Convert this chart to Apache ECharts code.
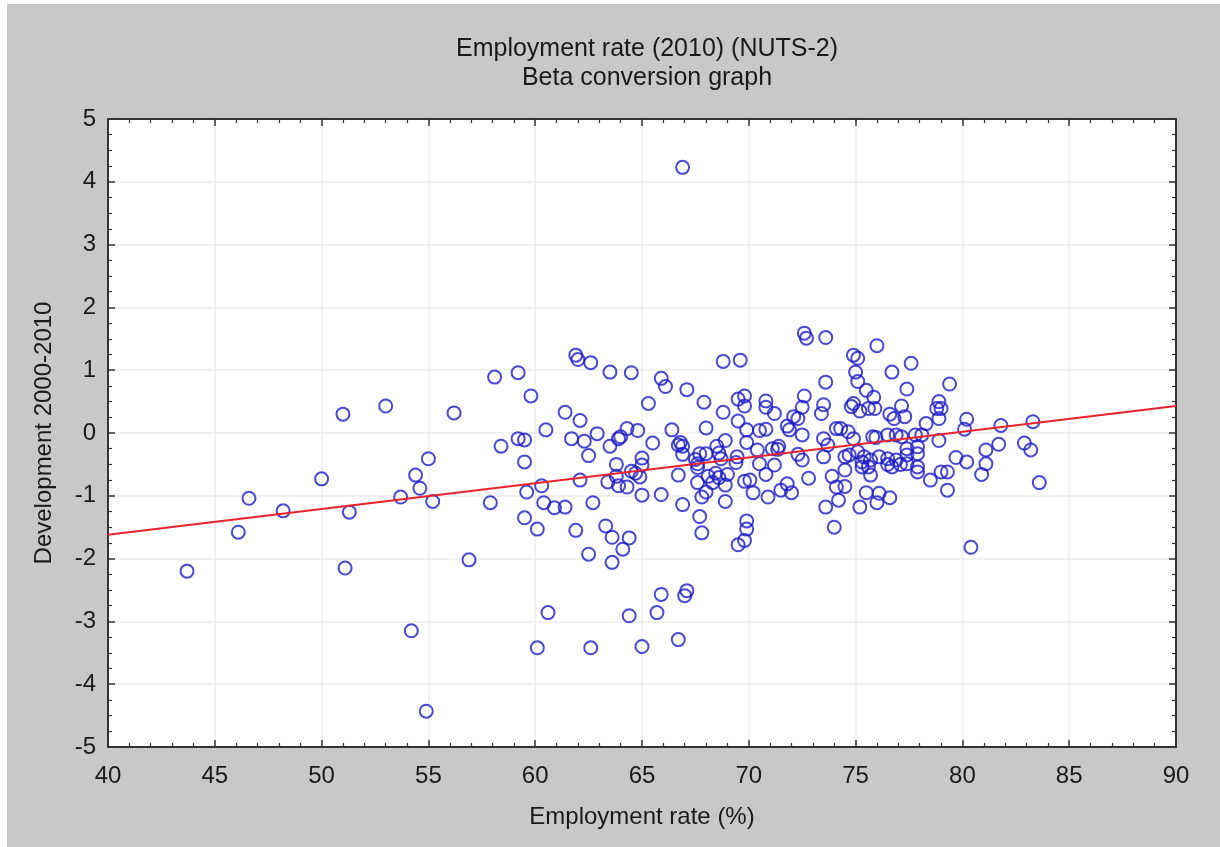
<!DOCTYPE html>
<html>
<head>
<meta charset="utf-8">
<script src="https://cdn.jsdelivr.net/npm/echarts@6/dist/echarts.min.js"></script>
<style>
  html, body { margin: 0; padding: 0; background: #fff; }
  #chart { width: 1220px; height: 847px; }
</style>
</head>
<body>
<div id="chart"></div>
<script>
// Employment rate 2010 (%) of each NUTS-2 region
const employmentRate = [
  43.7, 46.1, 46.6, 48.2, 50.0, 51.0, 51.1, 51.3, 53.0, 53.7,
  54.4, 55.0, 54.6, 55.2, 56.2, 56.9, 57.9, 58.1, 59.2, 58.4,
  59.2, 59.5, 59.8, 59.5, 59.6, 59.5,
  54.2, 54.9, 60.6, 60.1, 62.6, 64.4, 65.0, 65.7, 66.7,
  61.9, 62.0, 62.6, 63.5, 64.5, 65.9, 66.1, 61.4, 62.1, 65.3,
  60.5, 61.7, 62.3, 62.9, 63.5, 63.9, 64.0, 64.3, 64.8, 65.5,
  62.5, 63.8, 65.0, 65.0, 64.5, 64.7, 64.9, 63.8, 63.4, 63.9,
  64.3, 62.1, 60.3, 65.0, 65.9, 60.4, 60.9, 61.4, 62.7, 60.1,
  61.9, 63.3, 63.6, 64.4, 64.1, 62.5, 63.6, 65.9,
  72.6, 72.7, 68.8, 69.6, 67.1, 67.9, 68.8, 69.5, 69.8, 69.8,
  69.5, 69.9, 70.8, 70.8, 71.2, 70.5, 70.8, 66.4, 68.0, 72.6,
  72.5, 72.1, 72.3, 71.8, 71.9, 72.5, 68.9, 68.5, 66.8, 66.9,
  66.7, 66.9, 69.9, 71.1, 71.4, 71.35, 70.4, 69.45, 68.6, 67.7,
  68.0, 67.5, 67.6, 68.7, 69.4, 70.5, 71.2, 72.3, 72.5, 67.6,
  66.7, 68.1, 68.45, 68.6, 69.0, 68.9, 68.3, 67.6, 70.05, 69.8,
  70.8, 70.2, 70.9, 71.5, 71.8, 72.0, 68.0, 67.8, 68.9, 66.9,
  67.7, 67.8, 69.9, 69.9, 69.8, 69.5, 67.1, 67.0, 66.9,
  73.6, 76.0, 74.9, 75.1, 77.6, 76.7, 75.0, 75.1, 73.6, 75.5,
  77.4, 75.85, 73.5, 74.8, 74.9, 75.2, 75.6, 75.9, 76.6, 76.8,
  77.15, 77.3, 78.9, 78.8, 79.0, 78.9, 78.3, 79.4, 73.4, 74.1,
  74.3, 74.65, 74.9, 75.8, 75.95, 76.5, 76.9, 77.15, 77.8, 78.1,
  78.9, 73.5, 73.7, 74.7, 74.5, 75.1, 75.4, 75.7, 76.1, 76.5,
  76.9, 77.4, 77.9, 77.9, 77.4, 75.3, 75.3, 75.6, 75.7, 76.5,
  76.7, 77.1, 77.4, 77.9, 77.9, 79.0, 79.3, 78.5, 74.5, 72.8,
  73.9, 74.1, 74.5, 74.2, 73.6, 75.2, 75.5, 76.0, 76.1, 76.6,
  74.0, 79.3, 73.5,
  80.2, 80.1, 81.8, 83.3, 81.7, 82.9, 83.2, 81.1, 79.7, 80.2,
  81.1, 80.9, 83.6, 80.4
];

// Development 2000-2010 of the same regions, same order
const development = [
  -2.20, -1.58, -1.04, -1.24, -0.73, 0.30, -2.15, -1.26, 0.43, -1.02,
  -0.67, -0.41, -0.88, -1.09, 0.32, -2.02, -1.11, 0.89, 0.96, -0.21,
  -0.09, -0.11, 0.59, -0.46, -0.94, -1.35,
  -3.15, -4.43, -2.86, -3.42, -3.42, -2.91, -3.40, -2.86, -3.29,
  1.24, 1.17, 1.12, 0.97, 0.96, 0.87, 0.74, 0.33, 0.20, 0.47,
  0.05, -0.09, -0.13, -0.01, -0.21, -0.09, -0.06, 0.07, 0.04, -0.16,
  -0.36, -0.50, -0.40, -0.51, -0.61, -0.64, -0.70, -0.69, -0.78, -0.84,
  -0.86, -0.75, -0.84, -0.99, -0.98, -1.11, -1.19, -1.18, -1.11, -1.53,
  -1.55, -1.48, -1.66, -1.67, -1.85, -1.93, -2.06, -2.57,
  1.59, 1.51, 1.14, 1.16, 0.69, 0.49, 0.33, 0.54, 0.59, 0.43,
  0.19, 0.05, 0.51, 0.41, 0.31, 0.04, 0.06, 0.05, 0.08, 0.59,
  0.41, 0.26, 0.23, 0.11, 0.05, -0.03, -0.12, -0.21, -0.15, -0.21,
  -0.19, -0.34, -0.15, -0.25, -0.21, -0.26, -0.27, -0.38, -0.32, -0.33,
  -0.33, -0.42, -0.49, -0.41, -0.47, -0.49, -0.51, -0.34, -0.43, -0.55,
  -0.67, -0.69, -0.64, -0.71, -0.66, -0.83, -0.79, -0.79, -0.75, -0.77,
  -0.66, -0.95, -1.02, -0.91, -0.81, -0.95, -0.94, -1.02, -1.09, -1.14,
  -1.33, -1.59, -1.40, -1.53, -1.71, -1.78, -2.51, -2.59, 4.23,
  1.52, 1.39, 1.24, 1.19, 1.11, 0.97, 0.97, 0.82, 0.81, 0.68,
  0.70, 0.57, 0.45, 0.42, 0.47, 0.35, 0.39, 0.39, 0.30, 0.23,
  0.43, 0.26, 0.50, 0.39, 0.39, 0.23, 0.15, 0.78, 0.31, 0.07,
  0.07, 0.02, -0.09, -0.06, -0.07, -0.03, -0.03, -0.06, -0.03, -0.03,
  -0.12, -0.09, -0.19, -0.35, -0.38, -0.30, -0.38, -0.43, -0.38, -0.41,
  -0.43, -0.35, -0.33, -0.22, -0.25, -0.46, -0.54, -0.54, -0.67, -0.50,
  -0.54, -0.50, -0.49, -0.54, -0.62, -0.62, -0.62, -0.75, -0.59, -0.72,
  -0.69, -0.86, -0.85, -1.07, -1.18, -1.18, -0.95, -1.11, -0.96, -1.03,
  -1.50, -0.91, -0.38,
  0.22, 0.06, 0.12, 0.18, -0.18, -0.16, -0.27, -0.27, -0.39, -0.46,
  -0.49, -0.66, -0.79, -1.82
];

// Fitted regression line: [employment rate, development] at both ends of the axis
const fitLine = [[40, -1.62], [90, 0.43]];

const xTicks = { min: 40, max: 90, interval: 5 };
const yTicks = { min: -5, max: 5, interval: 1 };

const points = employmentRate.map((x, i) => [x, development[i]]);

const FONT = '"Liberation Sans", Arial, sans-serif';
const INK = '#1a1a1a';
const FRAME = '#333';

const frameAxis = {
  axisLine: { show: true, onZero: false, lineStyle: { color: FRAME, width: 2 } },
  axisTick: { show: true, inside: true, length: 7, lineStyle: { color: FRAME, width: 1.5 } },
  minorTick: { show: true, length: 4, lineStyle: { color: FRAME, width: 1.2 } }
};

const chart = echarts.init(document.getElementById('chart'), null, { renderer: 'canvas' });

chart.setOption({
  backgroundColor: '#fff',
  animation: false,
  graphic: [{
    type: 'rect', z: -10, silent: true,
    shape: { x: 7, y: 4, width: 1213, height: 843 },
    style: { fill: '#c8c8c8' }
  }],
  title: {
    text: 'Employment rate (2010) (NUTS-2)\nBeta conversion graph',
    left: 642, top: 30, textAlign: 'center',
    textStyle: { fontFamily: FONT, fontSize: 25, fontWeight: 'normal', color: INK, lineHeight: 29 }
  },
  grid: {
    left: 108, top: 119, width: 1068, height: 628,
    show: true, backgroundColor: '#fff', borderWidth: 0,
    containLabel: false, outerBoundsMode: 'none'
  },
  xAxis: [
    Object.assign({
      type: 'value', position: 'bottom',
      min: xTicks.min, max: xTicks.max, interval: xTicks.interval,
      name: 'Employment rate (%)', nameLocation: 'middle', nameGap: 58,
      nameTextStyle: { fontFamily: FONT, fontSize: 24, color: INK },
      axisLabel: { margin: 17, fontFamily: FONT, fontSize: 24, color: INK },
      splitLine: { show: true, lineStyle: { color: '#ececec', width: 1.5 } }
    }, frameAxis, { minorTick: Object.assign({ splitNumber: 5 }, frameAxis.minorTick) }),
    Object.assign({
      type: 'value', position: 'top',
      min: xTicks.min, max: xTicks.max, interval: xTicks.interval,
      axisLabel: { show: false }, splitLine: { show: false }
    }, frameAxis, { minorTick: Object.assign({ splitNumber: 5 }, frameAxis.minorTick) })
  ],
  yAxis: [
    Object.assign({
      type: 'value', position: 'left',
      min: yTicks.min, max: yTicks.max, interval: yTicks.interval,
      name: 'Development 2000-2010', nameLocation: 'middle', nameGap: 52,
      nameTextStyle: { fontFamily: FONT, fontSize: 24, color: INK },
      axisLabel: { margin: 12, fontFamily: FONT, fontSize: 24, color: INK },
      splitLine: { show: true, lineStyle: { color: '#ececec', width: 1.5 } }
    }, frameAxis, { minorTick: Object.assign({ splitNumber: 4 }, frameAxis.minorTick) }),
    Object.assign({
      type: 'value', position: 'right',
      min: yTicks.min, max: yTicks.max, interval: yTicks.interval,
      axisLabel: { show: false }, splitLine: { show: false }
    }, frameAxis, { minorTick: Object.assign({ splitNumber: 4 }, frameAxis.minorTick) })
  ],
  series: [
    {
      type: 'scatter',
      xAxisIndex: 0, yAxisIndex: 0,
      data: points,
      symbol: 'circle',
      symbolSize: 13,
      itemStyle: { color: 'rgba(0,0,0,0)', borderColor: '#1a1ac8', borderWidth: 2 },
      emphasis: { disabled: true },
      z: 2
    },
    {
      type: 'line',
      xAxisIndex: 0, yAxisIndex: 0,
      data: fitLine,
      showSymbol: false,
      symbol: 'none',
      lineStyle: { color: '#e8232a', width: 1.8 },
      z: 3
    }
  ]
});
</script>
</body>
</html>
